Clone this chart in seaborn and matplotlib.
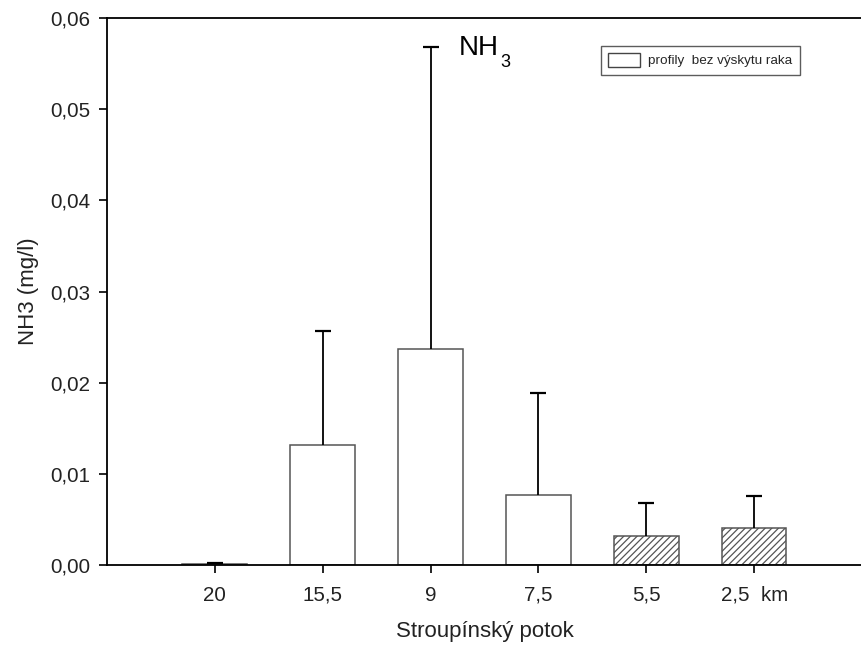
import numpy as np
import pandas as pd
import seaborn as sns
import matplotlib.pyplot as plt
from matplotlib.patches import Patch

sns.set_theme(style="white")
plt.rcParams["font.family"] = ["Liberation Sans", "DejaVu Sans"]
plt.rcParams["hatch.color"] = "black"
plt.rcParams["hatch.linewidth"] = 0.9

# data
profiles = ["20", "15,5", "9", "7,5", "5,5", "2,5  km"]
nh3_mean = [0.0001, 0.0132, 0.0237, 0.0077, 0.0032, 0.0041]
nh3_err = [0.0001, 0.0125, 0.0331, 0.0112, 0.0036, 0.0035]
hatched = [False, False, False, False, True, True]

df = pd.DataFrame({"profil": profiles, "nh3": nh3_mean})

fig = plt.figure(figsize=(8.62, 6.46), dpi=100)
ax = fig.add_axes([0.124, 0.1254, 0.876, 0.8467])

sns.barplot(data=df, x="profil", y="nh3", order=profiles, color="white",
            edgecolor="#555555", linewidth=1.1, width=0.6, saturation=1,
            errorbar=None, ax=ax)

for bar, h in zip(ax.patches, hatched):
    bar.set_facecolor("white")
    if h:
        bar.set_hatch("/////")

# jen horní chybové úsečky
xpos = np.arange(len(profiles))
eb = ax.errorbar(xpos, nh3_mean, yerr=[np.zeros(len(nh3_err)), nh3_err], fmt="none",
                 ecolor="black", elinewidth=1.3, capsize=5.8, capthick=1.6, zorder=3)
for cap in eb[1]:
    if np.allclose(cap.get_ydata(), nh3_mean):
        cap.set_visible(False)

ax.set_xlim(-1, 6)
ax.set_ylim(0, 0.06)
ticks = np.arange(0, 0.061, 0.01)
ax.set_yticks(ticks)
ax.set_yticklabels([f"{v:.2f}".replace(".", ",") for v in ticks])

for side in ["left", "bottom", "top"]:
    ax.spines[side].set_visible(True)
    ax.spines[side].set_color("black")
    ax.spines[side].set_linewidth(1.3)
ax.spines["right"].set_visible(False)

ax.tick_params(axis="both", direction="out", length=5.8, width=1.2, color="black",
               labelsize=14.8, labelcolor="#222222", left=True, bottom=True)
ax.tick_params(axis="y", pad=6)
ax.tick_params(axis="x", pad=9)

ax.set_xlabel("Stroupínský potok", fontsize=16, color="#222222", labelpad=12)
ax.set_ylabel("NH3 (mg/l)", fontsize=16, color="#222222", labelpad=8)

nh = ax.text(2.26, 0.0559, "NH", fontsize=20, color="black", ha="left", va="baseline")
ax.annotate("3", xy=(1, 0), xycoords=nh, xytext=(1.2, -0.5), textcoords="offset points",
            fontsize=13, color="black", ha="left", va="center")

handle = Patch(facecolor="white", edgecolor="#444444", linewidth=1.0,
               label="profily  bez výskytu raka")
leg = ax.legend(handles=[handle], loc="upper left", bbox_to_anchor=(0.645, 0.962),
                fontsize=9.7, frameon=True, fancybox=False, handlelength=2.4,
                handleheight=1.2, borderpad=0.55, handletextpad=0.6,
                edgecolor="#333333")
leg.get_frame().set_linewidth(1.0)

fig.savefig("out.png", dpi=100)
